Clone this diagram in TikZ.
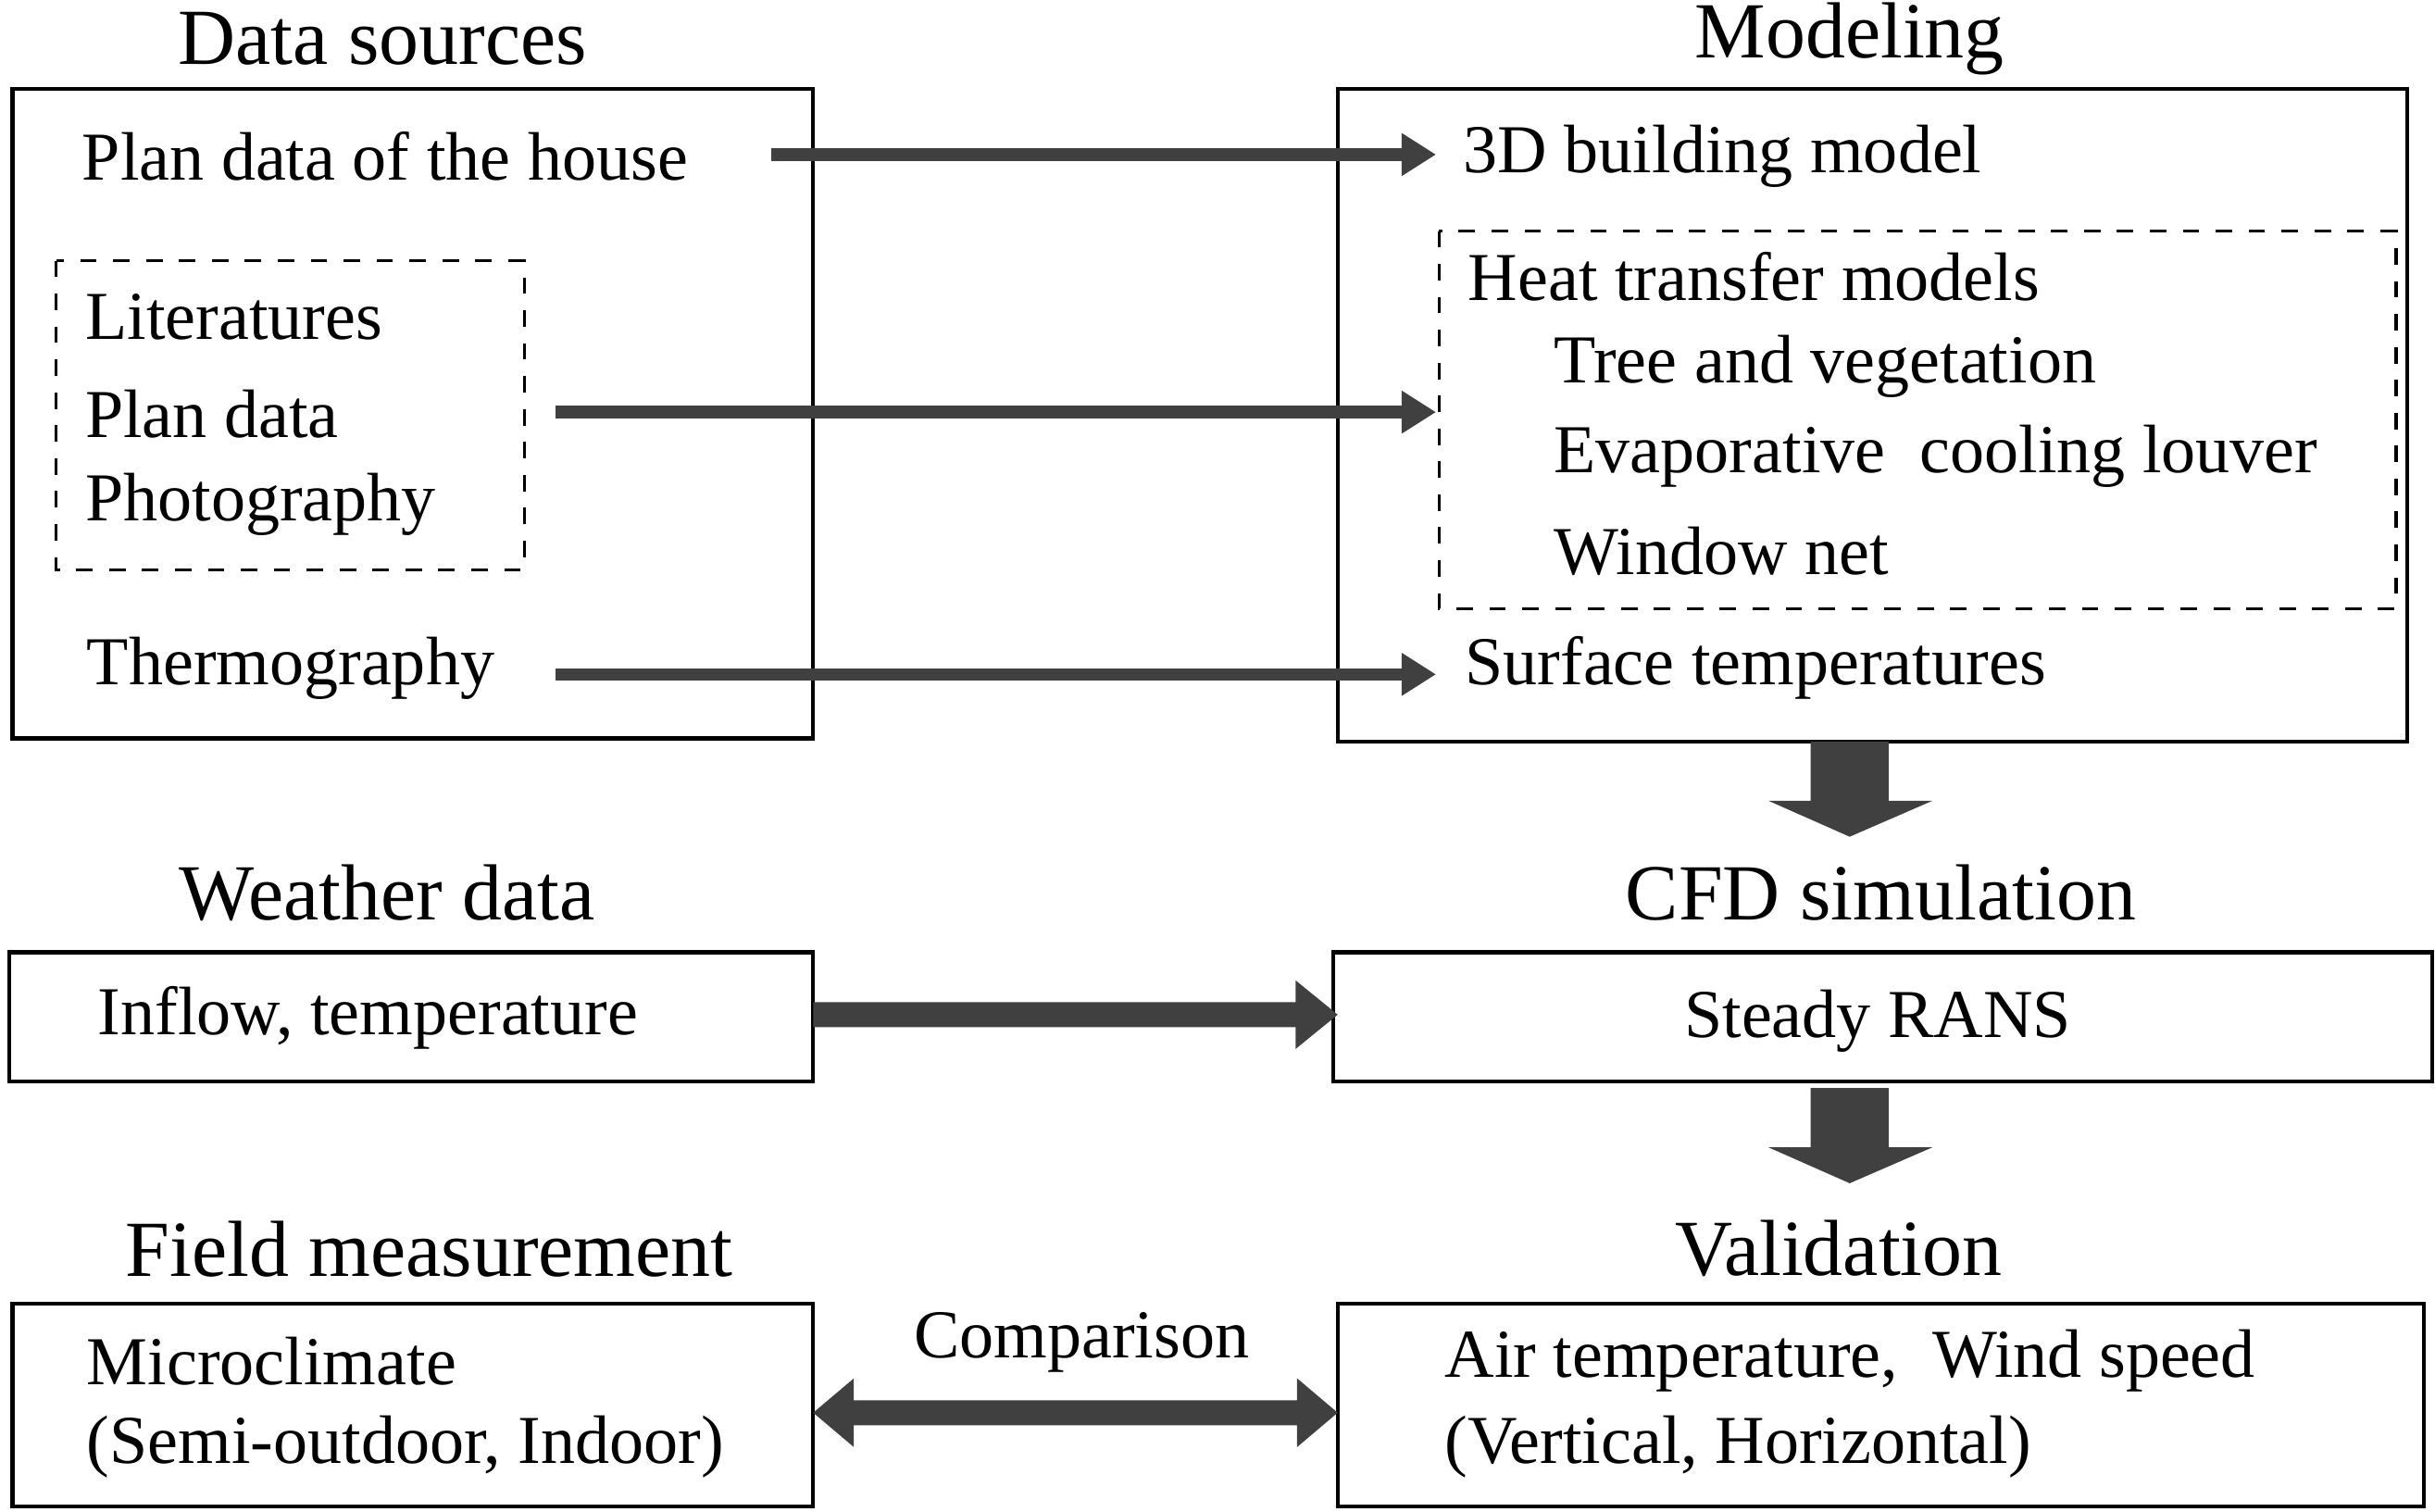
\documentclass[tikz,border=0pt]{standalone}
\usepackage{fontspec}
\setmainfont{Liberation Serif}
\usetikzlibrary{arrows.meta}
\begin{document}
\begin{tikzpicture}[x=0.1mm,y=-0.1mm,
  box/.style={draw,line width=0.25mm},
  dbox/.style={draw,dashed,line width=0.2mm},
  txt/.style={anchor=west,inner sep=0,font=\fontsize{12.5}{14}\selectfont},
  ttl/.style={inner sep=0,font=\fontsize{14.5}{16}\selectfont},
  thin/.style={draw=black!75,line width=0.8mm,-{Triangle[length=2.2mm,width=2.6mm]}},
  fat/.style={fill=black!75,draw=none}]
\useasboundingbox (0,0) rectangle (1560,968.6);
% boxes
\draw[box] (8,57) rectangle (521,473);
\draw[dbox] (36,167) rectangle (336,365);
\draw[box] (857,57) rectangle (1542,475);
\draw[dbox] (922,148) rectangle (1535,390);
\draw[box] (6,610) rectangle (521,693);
\draw[box] (854,610) rectangle (1558,693);
\draw[box] (8,835) rectangle (521,965);
\draw[box] (857,835) rectangle (1553,965);
% titles
\node[ttl] (t1) at (245,25) {Data sources};
\node[ttl] (t2) at (1185,25) {Modeling};
\node[ttl] (t3) at (248,572) {Weather data};
\node[ttl] (t4) at (1205,572) {CFD simulation};
\node[ttl] (t5) at (275,800) {Field measurement};
\node[ttl] (t6) at (1178,800) {Validation};
% texts
\node[txt] (a1) at (52,100) {Plan data of the house};
\node[txt] (a2) at (54,203) {Literatures};
\node[txt] (a3) at (54,265) {Plan data};
\node[txt] (a4) at (54,323) {Photography};
\node[txt] (a5) at (55,428) {Thermography};
\node[txt] (b1) at (937,100) {3D building model};
\node[txt] (b2) at (940,177) {Heat transfer models};
\node[txt] (b3) at (995,235) {Tree and vegetation};
\node[txt] (b4) at (995,292) {Evaporative\ \ cooling louver};
\node[txt] (b5) at (995,353) {Window net};
\node[txt] (b6) at (938,428) {Surface temperatures};
\node[txt] (c1) at (62,652) {Inflow, temperature};
\node[txt,anchor=center] (d1) at (1203,654) {Steady RANS};
\node[txt] (e1) at (55,872) {Microclimate};
\node[txt] (e2) at (55,927) {(Semi-outdoor, Indoor)};
\node[txt] (f1) at (925,872) {Air temperature,\ \ Wind speed};
\node[txt] (f2) at (925,927) {(Vertical, Horizontal)};
\node[txt,anchor=center] (cmp) at (693,860) {Comparison};
% thin arrows
\coordinate (p1) at (494,99); \coordinate (q1) at (920,99);
\coordinate (p2) at (356,264); \coordinate (q2) at (920,264);
\coordinate (p3) at (356,432); \coordinate (q3) at (920,432);
\draw[thin] (p1) -- (q1);
\draw[thin] (p2) -- (q2);
\draw[thin] (p3) -- (q3);
% fat down arrows
\fill[fat] (1160,475) -- (1210,475) -- (1210,513) -- (1238,513) -- (1185,536) -- (1133,513) -- (1160,513) -- cycle;
\fill[fat] (1160,697) -- (1210,697) -- (1210,735) -- (1238,735) -- (1185,758) -- (1133,735) -- (1160,735) -- cycle;
% right arrow
\fill[fat] (521,642) -- (830,642) -- (830,628) -- (857,650) -- (830,672) -- (830,658) -- (521,658) -- cycle;
% double arrow
\fill[fat] (547,897) -- (831,897) -- (831,883) -- (857,905) -- (831,927) -- (831,913) -- (547,913) -- (547,927) -- (521,905) -- (547,883) -- cycle;
\end{tikzpicture}
\end{document}
